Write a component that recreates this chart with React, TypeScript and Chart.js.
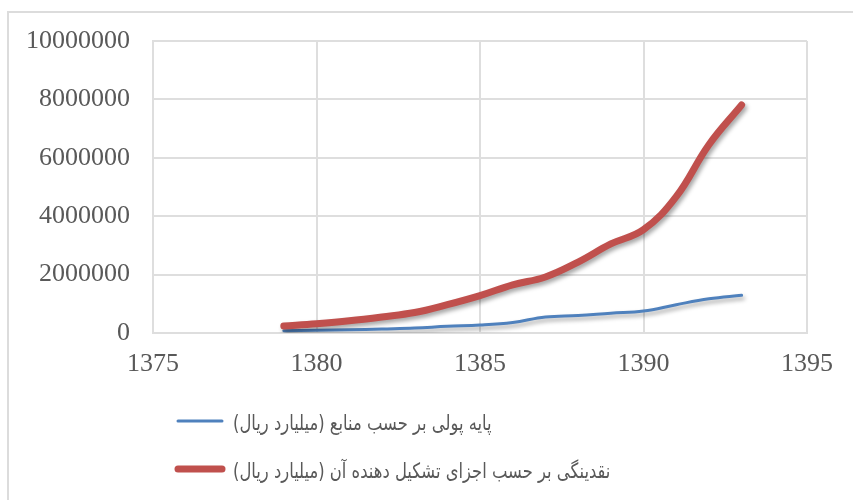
import React, { useEffect, useRef } from "react";
import { Chart, registerables } from "chart.js";

Chart.register(...registerables);

const years = [1379, 1380, 1381, 1382, 1383, 1384, 1385, 1386, 1387, 1388, 1389, 1390, 1391, 1392, 1393];
const monetaryBase = [80000, 95000, 110000, 140000, 170000, 230000, 270000, 360000, 550000, 600000, 680000, 750000, 970000, 1170000, 1290000];
const liquidity = [240000, 320000, 420000, 550000, 700000, 970000, 1280000, 1650000, 1920000, 2430000, 3050000, 3540000, 4670000, 6450000, 7810000];
const seriesLabels = [
  "پایه پولی بر حسب منابع (میلیارد ریال)",
  "نقدینگی بر حسب اجزای تشکیل دهنده آن (میلیارد ریال)",
];
const seriesColors = ["#4F81BD", "#C0504D"];
const seriesWidths = [3, 7];
const xMin = 1375;
const xMax = 1395;
const xStep = 5;
const yMin = 0;
const yMax = 10000000;
const yStep = 2000000;

export default function App() {
  const ref = useRef<HTMLCanvasElement>(null);

  useEffect(() => {
    const shadowPlugin = {
      id: "lineShadow",
      beforeDatasetDraw(chart: any) {
        const c = chart.ctx;
        c.save();
        c.shadowColor = "rgba(0,0,0,0.35)";
        c.shadowBlur = 4;
        c.shadowOffsetX = 2;
        c.shadowOffsetY = 3;
      },
      afterDatasetDraw(chart: any) {
        chart.ctx.restore();
      },
    };

    const legendPlugin = {
      id: "stackedLegend",
      afterDraw(chart: any) {
        const c = chart.ctx;
        const rows = [421, 469];
        chart.data.datasets.forEach((ds: any, i: number) => {
          const y = rows[i];
          c.save();
          c.lineCap = "round";
          c.strokeStyle = ds.borderColor;
          c.lineWidth = ds.borderWidth;
          c.beginPath();
          c.moveTo(178, y);
          c.lineTo(222, y);
          c.stroke();
          c.fillStyle = "#595959";
          c.font = '21px "DejaVu Sans", sans-serif';
          (c as any).direction = "rtl";
          c.textAlign = "left";
          c.textBaseline = "middle";
          c.translate(233, y + 4);
          c.scale(0.78, 1);
          c.fillText(ds.label, 0, 0);
          c.restore();
        });
      },
    };

    const chart = new Chart(ref.current as HTMLCanvasElement, {
      type: "line",
      data: {
        datasets: [
          {
            label: seriesLabels[0],
            data: years.map((x, i) => ({ x, y: monetaryBase[i] })),
            borderColor: seriesColors[0],
            backgroundColor: seriesColors[0],
            borderWidth: seriesWidths[0],
            pointRadius: 0,
            tension: 0.4,
            borderCapStyle: "round",
            borderJoinStyle: "round",
            order: 1,
          },
          {
            label: seriesLabels[1],
            data: years.map((x, i) => ({ x, y: liquidity[i] })),
            borderColor: seriesColors[1],
            backgroundColor: seriesColors[1],
            borderWidth: seriesWidths[1],
            pointRadius: 0,
            tension: 0.4,
            borderCapStyle: "round",
            borderJoinStyle: "round",
            order: 0,
          },
        ],
      },
      options: {
        animation: false,
        responsive: false,
        devicePixelRatio: 1,
        layout: { padding: { left: 0, top: 41, right: 46, bottom: 0 } },
        plugins: {
          legend: { display: false },
          tooltip: { enabled: false },
        },
        scales: {
          x: {
            type: "linear",
            min: xMin,
            max: xMax,
            ticks: {
              stepSize: xStep,
              padding: 16,
              color: "#595959",
              font: { family: '"Liberation Serif", serif', size: 26 },
              callback: (v: any) => String(v),
            },
            grid: { color: "#dedede", lineWidth: 2, drawTicks: false },
            border: { color: "#dedede", width: 2 },
            afterFit: (s: any) => {
              s.height = 167;
            },
          },
          y: {
            type: "linear",
            min: yMin,
            max: yMax,
            ticks: {
              stepSize: yStep,
              padding: 23,
              color: "#595959",
              font: { family: '"Liberation Serif", serif', size: 26 },
              callback: (v: any) => String(v),
            },
            grid: { color: "#dedede", lineWidth: 2, drawTicks: false },
            border: { color: "#dedede", width: 2 },
            afterFit: (s: any) => {
              s.width = 153;
            },
          },
        },
      },
      plugins: [shadowPlugin, legendPlugin],
    });
    return () => chart.destroy();
  }, []);

  return (
    <div style={{ position: "fixed", left: 0, top: 0, width: 853, height: 500, background: "#fff", overflow: "hidden" }}>
      <div
        style={{
          position: "absolute",
          left: 7,
          top: 11,
          width: 900,
          height: 600,
          borderLeft: "2px solid #dcdcdc",
          borderTop: "2px solid #dcdcdc",
        }}
      />
      <canvas ref={ref} width={853} height={500} style={{ position: "absolute", left: 0, top: 0 }} />
    </div>
  );
}
